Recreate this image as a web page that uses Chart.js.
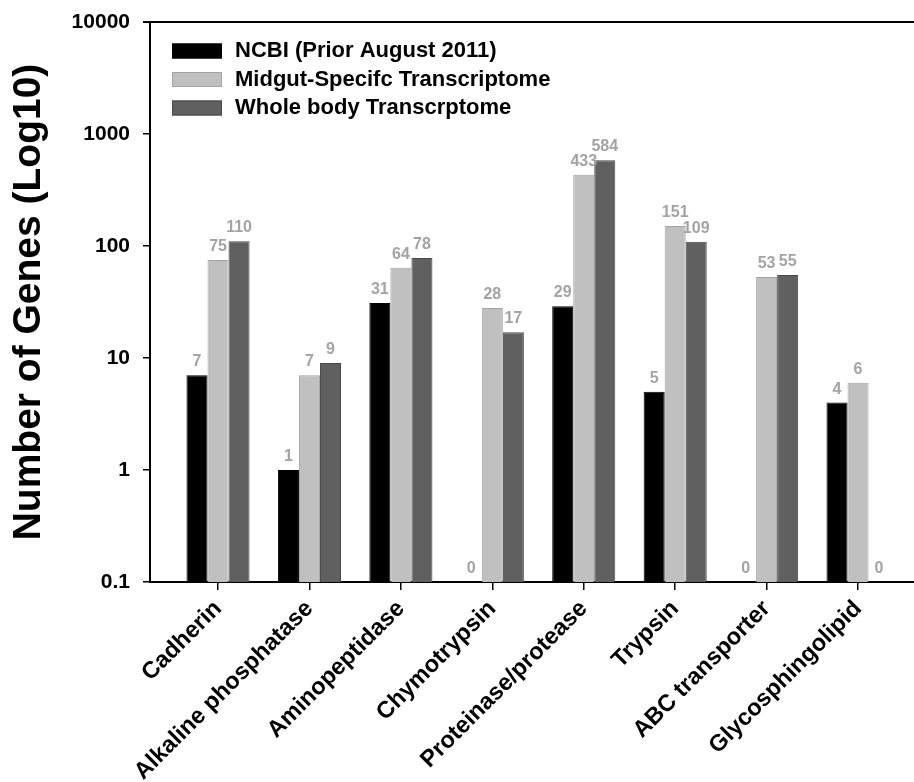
<!DOCTYPE html>
<html>
<head>
<meta charset="utf-8">
<script src="https://cdn.jsdelivr.net/npm/chart.js@4/dist/chart.umd.min.js"></script>
<style>
  body { margin: 0; background: #fff; }
  #wrap { width: 914px; height: 782px; position: relative; }
</style>
</head>
<body>
<div id="wrap"><canvas id="geneChart"></canvas></div>
<script>
// Gene counts per family
const categories = ['Cadherin', 'Alkaline phosphatase', 'Aminopeptidase', 'Chymotrypsin',
    'Proteinase/protease', 'Trypsin', 'ABC transporter', 'Glycosphingolipid'];
const ncbi = [7, 1, 31, 0, 29, 5, 0, 4];
const midgut = [75, 7, 64, 28, 433, 151, 53, 6];
const wholeBody = [110, 9, 78, 17, 584, 109, 55, 0];
const yTicks = [0.1, 1, 10, 100, 1000, 10000];

const FONT = "'Liberation Sans', Arial, Helvetica, sans-serif";

function toPoints(values) {
    return values.map((v, i) => ({ x: i, y: v }));
}

// value labels above each bar
const valueLabels = {
    id: 'valueLabels',
    afterDatasetsDraw(chart) {
        const ctx = chart.ctx;
        ctx.save();
        ctx.font = 'bold 16px ' + FONT;
        ctx.fillStyle = '#a3a3a3';
        ctx.textAlign = 'center';
        ctx.textBaseline = 'alphabetic';
        chart.data.datasets.forEach((ds, di) => {
            const meta = chart.getDatasetMeta(di);
            meta.data.forEach((bar, i) => {
                ctx.fillText(String(ds.data[i].y), bar.x, bar.y - 9);
            });
        });
        ctx.restore();
    }
};

// legend drawn inside the plot, plus the top frame line
const frameAndLegend = {
    id: 'frameAndLegend',
    afterDraw(chart) {
        const ctx = chart.ctx;
        const area = chart.chartArea;
        ctx.save();
        ctx.strokeStyle = '#000';
        ctx.lineWidth = 2;
        ctx.beginPath();
        ctx.moveTo(area.left - 7, area.top);
        ctx.lineTo(area.right, area.top);
        ctx.stroke();

        ctx.font = 'bold 22px ' + FONT;
        ctx.textBaseline = 'middle';
        ctx.textAlign = 'left';
        chart.data.datasets.forEach((ds, i) => {
            const cy = 51 + i * 28.5;
            ctx.fillStyle = ds.backgroundColor;
            ctx.fillRect(172, cy - 7.5, 50, 15);
            ctx.strokeStyle = ds.borderColor;
            ctx.lineWidth = 1;
            ctx.strokeRect(172.5, cy - 7, 49, 14);
            ctx.fillStyle = '#000';
            ctx.fillText(ds.label, 235, cy);
        });
        ctx.restore();
    }
};

const ctx = document.getElementById('geneChart').getContext('2d');
const geneChart = new Chart(ctx, {
    type: 'bar',
    data: {
        datasets: [
            {
                label: 'NCBI (Prior August 2011)',
                data: toPoints(ncbi),
                backgroundColor: '#000000',
                borderColor: '#000000',
                borderWidth: 1
            },
            {
                label: 'Midgut-Specifc Transcriptome',
                data: toPoints(midgut),
                backgroundColor: '#c0c0c0',
                borderColor: '#a4a4a4',
                borderWidth: 1
            },
            {
                label: 'Whole body Transcrptome',
                data: toPoints(wholeBody),
                backgroundColor: '#606060',
                borderColor: '#484848',
                borderWidth: 1
            }
        ]
    },
    options: {
        responsive: true,
        maintainAspectRatio: false,
        animation: false,
        categoryPercentage: 0.69,
        barPercentage: 1,
        layout: { padding: { top: 22, left: 0, right: 0, bottom: 0 } },
        plugins: {
            legend: { display: false },
            tooltip: { enabled: false }
        },
        scales: {
            x: {
                type: 'linear',
                min: -0.744,
                max: 7.612,
                offset: false,
                afterBuildTicks(scale) {
                    scale.ticks = categories.map((c, i) => ({ value: i }));
                },
                afterFit(scale) {
                    scale.height = 200;
                    scale.paddingLeft = 0;
                    scale.paddingRight = 0;
                },
                ticks: {
                    autoSkip: false,
                    minRotation: 45,
                    maxRotation: 45,
                    padding: 5,
                    color: '#000',
                    font: { family: FONT, size: 23.5, weight: 'bold' },
                    callback: (v) => categories[v]
                },
                grid: {
                    offset: false,
                    drawOnChartArea: false,
                    drawTicks: true,
                    tickLength: 8,
                    color: '#000',
                    lineWidth: 1.5
                },
                border: { display: true, color: '#000', width: 2 }
            },
            y: {
                type: 'logarithmic',
                min: 0.1,
                max: 10000,
                afterBuildTicks(scale) {
                    scale.ticks = yTicks.map(v => ({ value: v, major: true }));
                },
                afterFit(scale) {
                    scale.width = 150;
                    scale.paddingTop = 0;
                    scale.paddingBottom = 0;
                },
                ticks: {
                    padding: 13,
                    color: '#000',
                    font: { family: FONT, size: 21, weight: 'bold' },
                    callback: (v) => String(v)
                },
                grid: {
                    drawOnChartArea: false,
                    drawTicks: true,
                    tickLength: 7,
                    color: '#000',
                    lineWidth: 1.5
                },
                border: { display: true, color: '#000', width: 2 },
                title: {
                    display: true,
                    text: 'Number of Genes (Log10)',
                    color: '#000',
                    padding: { top: 6, bottom: 0 },
                    font: { family: FONT, size: 39, weight: 'bold' }
                }
            }
        }
    },
    plugins: [valueLabels, frameAndLegend]
});
</script>
</body>
</html>
